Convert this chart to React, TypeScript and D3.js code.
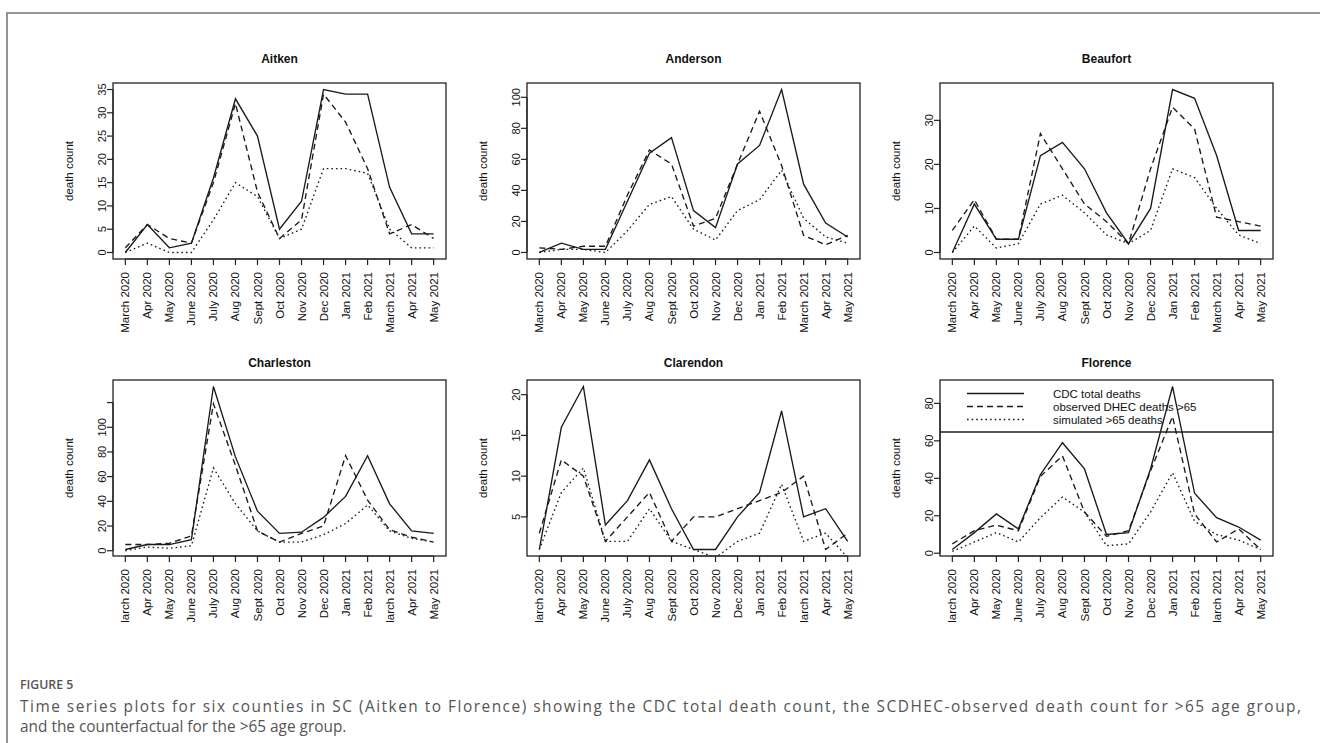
import React from "react";
import * as d3 from "d3";

const months = [
  "March 2020", "Apr 2020", "May 2020", "June 2020", "July 2020", "Aug 2020", "Sept 2020",
  "Oct 2020", "Nov 2020", "Dec 2020", "Jan 2021", "Feb 2021", "March 2021", "Apr 2021", "May 2021",
];

const counties = ["Aitken", "Anderson", "Beaufort", "Charleston", "Clarendon", "Florence"];

// CDC total deaths (solid)
const cdcTotal = [
  [0, 6, 1, 2, 16, 33, 25, 5, 11, 35, 34, 34, 14, 4, 4],
  [0, 6, 2, 2, 33, 64, 74, 27, 16, 57, 69, 105, 44, 19, 10],
  [0, 11, 3, 3, 22, 25, 19, 9, 2, 10, 37, 35, 22, 5, 5],
  [1, 5, 5, 9, 133, 76, 32, 14, 15, 27, 44, 77, 38, 16, 14],
  [1, 16, 21, 4, 7, 12, 6, 1, 1, 5, 8, 18, 5, 6, 2],
  [2, 11, 21, 13, 42, 59, 45, 10, 11, 45, 89, 32, 19, 14, 7],
];

// observed DHEC deaths >65 (dashed)
const dhecObserved = [
  [1, 6, 3, 2, 15, 32, 13, 3, 7, 34, 28, 18, 4, 6, 3],
  [3, 2, 4, 4, 37, 66, 57, 17, 22, 57, 91, 56, 11, 5, 11],
  [5, 12, 3, 3, 27, 19, 11, 7, 2, 19, 33, 28, 8, 7, 6],
  [5, 5, 6, 12, 119, 69, 16, 7, 14, 20, 77, 41, 17, 11, 7],
  [3, 12, 10, 2, 5, 8, 2, 5, 5, 6, 7, 8, 10, 1, 3],
  [5, 12, 15, 12, 41, 52, 22, 9, 12, 44, 73, 21, 6, 13, 2],
];

// simulated >65 deaths (dotted)
const simulated = [
  [0, 2, 0, 0, 7, 15, 12, 3, 5, 18, 18, 17, 5, 1, 1],
  [0, 2, 2, 0, 14, 31, 36, 15, 8, 27, 34, 53, 22, 10, 6],
  [0, 6, 1, 2, 11, 13, 9, 4, 2, 5, 19, 17, 10, 4, 2],
  [0, 3, 2, 4, 67, 38, 16, 7, 7, 13, 22, 37, 16, 10, 7],
  [1, 8, 11, 2, 2, 6, 2, 1, 0, 2, 3, 9, 2, 3, 0],
  [1, 6, 11, 6, 19, 30, 22, 4, 5, 22, 43, 17, 10, 7, 2],
];

// y-axis tick values and labels
const yTicks = [
  [0, 5, 10, 15, 20, 25, 30, 35],
  [0, 20, 40, 60, 80, 100],
  [0, 10, 20, 30],
  [0, 20, 40, 60, 80, 100, 120],
  [5, 10, 15, 20],
  [0, 20, 40, 60, 80],
];
const yTickLabels = [
  ["0", "5", "10", "15", "20", "25", "30", "35"],
  ["0", "20", "40", "60", "80", "100"],
  ["0", "10", "20", "30"],
  ["0", "20", "40", "60", "80", "100", ""],
  ["5", "10", "15", "20"],
  ["0", "20", "40", "60", "80"],
];

const legendLabels = ["CDC total deaths", "observed DHEC deaths >65", "simulated >65 deaths"];
const dashes = ["none", "6,4", "1.6,3"];

const captionTitle = "FIGURE 5";
const captionLines = [
  "Time series plots for six counties in SC (Aitken to Florence) showing the CDC total death count, the SCDHEC-observed death count for >65 age group,",
  "and the counterfactual for the >65 age group.",
];

const boxLefts = [113, 527, 940];
const boxTops = [83, 380];
const boxW = 333;
const boxH = 176;
const FONT = "'Liberation Sans', Arial, sans-serif";

function Panel({ idx }: { idx: number }) {
  const col = idx % 3;
  const row = Math.floor(idx / 3);
  const x0 = boxLefts[col];
  const y0 = boxTops[row];
  const n = months.length;
  const xPad = (n - 1) * 0.04;
  const x = d3.scaleLinear().domain([1 - xPad, n + xPad]).range([x0, x0 + boxW]);
  const [mn, mx] = d3.extent(cdcTotal[idx]) as [number, number];
  const yPad = (mx - mn) * 0.04;
  const y = d3.scaleLinear().domain([mn - yPad, mx + yPad]).range([y0 + boxH, y0]);
  const line = d3
    .line<number>()
    .x((_, i) => x(i + 1))
    .y((v) => y(v));
  const series = [cdcTotal[idx], dhecObserved[idx], simulated[idx]];
  const clipId = `clip-${idx}`;
  const lblClipId = `lblclip-${idx}`;
  const labelTop = y0 + boxH + 13;
  return (
    <g>
      <defs>
        <clipPath id={clipId}>
          <rect x={x0} y={y0} width={boxW} height={boxH} />
        </clipPath>
        <clipPath id={lblClipId}>
          <rect x={x0 - 20} y={y0 + boxH} width={boxW + 40} height={row === 1 ? 66 : 90} />
        </clipPath>
      </defs>
      <text
        x={x0 + boxW / 2}
        y={y0 - (row === 0 ? 20 : 13)}
        textAnchor="middle"
        fontFamily={FONT}
        fontWeight="bold"
        fontSize={12}
        fill="#111"
      >
        {counties[idx]}
      </text>
      <g clipPath={`url(#${clipId})`}>
        {series.map((s, k) => (
          <path
            key={k}
            d={line(s) || ""}
            fill="none"
            stroke="#1a1a1a"
            strokeWidth={1.35}
            strokeDasharray={dashes[k]}
          />
        ))}
      </g>
      <rect x={x0} y={y0} width={boxW} height={boxH} fill="none" stroke="#222" strokeWidth={1.3} />
      <line x1={x(1)} x2={x(n)} y1={y0 + boxH} y2={y0 + boxH} stroke="#222" strokeWidth={1.2} />
      {months.map((m, i) => (
        <line
          key={m}
          x1={x(i + 1)}
          x2={x(i + 1)}
          y1={y0 + boxH}
          y2={y0 + boxH + 6}
          stroke="#222"
          strokeWidth={1.2}
        />
      ))}
      <g clipPath={`url(#${lblClipId})`}>
        {months.map((m, i) => (
          <text
            key={m}
            transform={`translate(${x(i + 1)},${labelTop}) rotate(-90)`}
            textAnchor="end"
            dy="0.35em"
            fontFamily={FONT}
            fontSize={11.5}
            fill="#111"
          >
            {m}
          </text>
        ))}
      </g>
      {yTicks[idx].map((t, i) => (
        <g key={t}>
          <line x1={x0 - 6} x2={x0} y1={y(t)} y2={y(t)} stroke="#222" strokeWidth={1.2} />
          <text
            transform={`translate(${x0 - 11},${y(t)}) rotate(-90)`}
            textAnchor="middle"
            dy="0.35em"
            fontFamily={FONT}
            fontSize={11}
            fill="#111"
          >
            {yTickLabels[idx][i]}
          </text>
        </g>
      ))}
      <line
        x1={x0}
        x2={x0}
        y1={y(yTicks[idx][0])}
        y2={y(yTicks[idx][yTicks[idx].length - 1])}
        stroke="#222"
        strokeWidth={1.2}
      />
      <text
        transform={`translate(${x0 - 44},${y0 + boxH / 2}) rotate(-90)`}
        textAnchor="middle"
        dy="0.35em"
        fontFamily={FONT}
        fontSize={11.5}
        fill="#111"
      >
        death count
      </text>
      {idx === 5 && (
        <g>
          {legendLabels.map((l, k) => (
            <g key={l}>
              <line
                x1={x0 + 27}
                x2={x0 + 84}
                y1={y0 + 13.5 + k * 13}
                y2={y0 + 13.5 + k * 13}
                stroke="#1a1a1a"
                strokeWidth={1.35}
                strokeDasharray={dashes[k]}
              />
              <text
                x={x0 + 113}
                y={y0 + 13.5 + k * 13}
                dy="0.35em"
                fontFamily={FONT}
                fontSize={11.5}
                fill="#111"
              >
                {l}
              </text>
            </g>
          ))}
          <line x1={x0} x2={x0 + boxW} y1={y0 + 52} y2={y0 + 52} stroke="#222" strokeWidth={1.3} />
        </g>
      )}
    </g>
  );
}

export default function App() {
  return (
    <svg
      width={1320}
      height={743}
      style={{ position: "absolute", left: 0, top: 0, background: "#fff" }}
    >
      <rect x={0} y={0} width={1320} height={743} fill="#fff" />
      <rect x={7} y={13} width={1330} height={760} fill="none" stroke="#7a7a7a" strokeWidth={1.6} />
      {counties.map((_, i) => (
        <Panel key={i} idx={i} />
      ))}
      <text x={20} y={689} fontFamily="'Open Sans', sans-serif" fontWeight={600} fontSize={12.3} fill="#555">
        {captionTitle}
      </text>
      <text
        x={20}
        y={712}
        fontFamily="'Open Sans', sans-serif"
        fontSize={15.4}
        fill="#555"
        textLength={1281}
        lengthAdjust="spacing"
      >
        {captionLines[0]}
      </text>
      <text x={20} y={732} fontFamily="'Open Sans', sans-serif" fontSize={15.4} fill="#555">
        {captionLines[1]}
      </text>
    </svg>
  );
}
